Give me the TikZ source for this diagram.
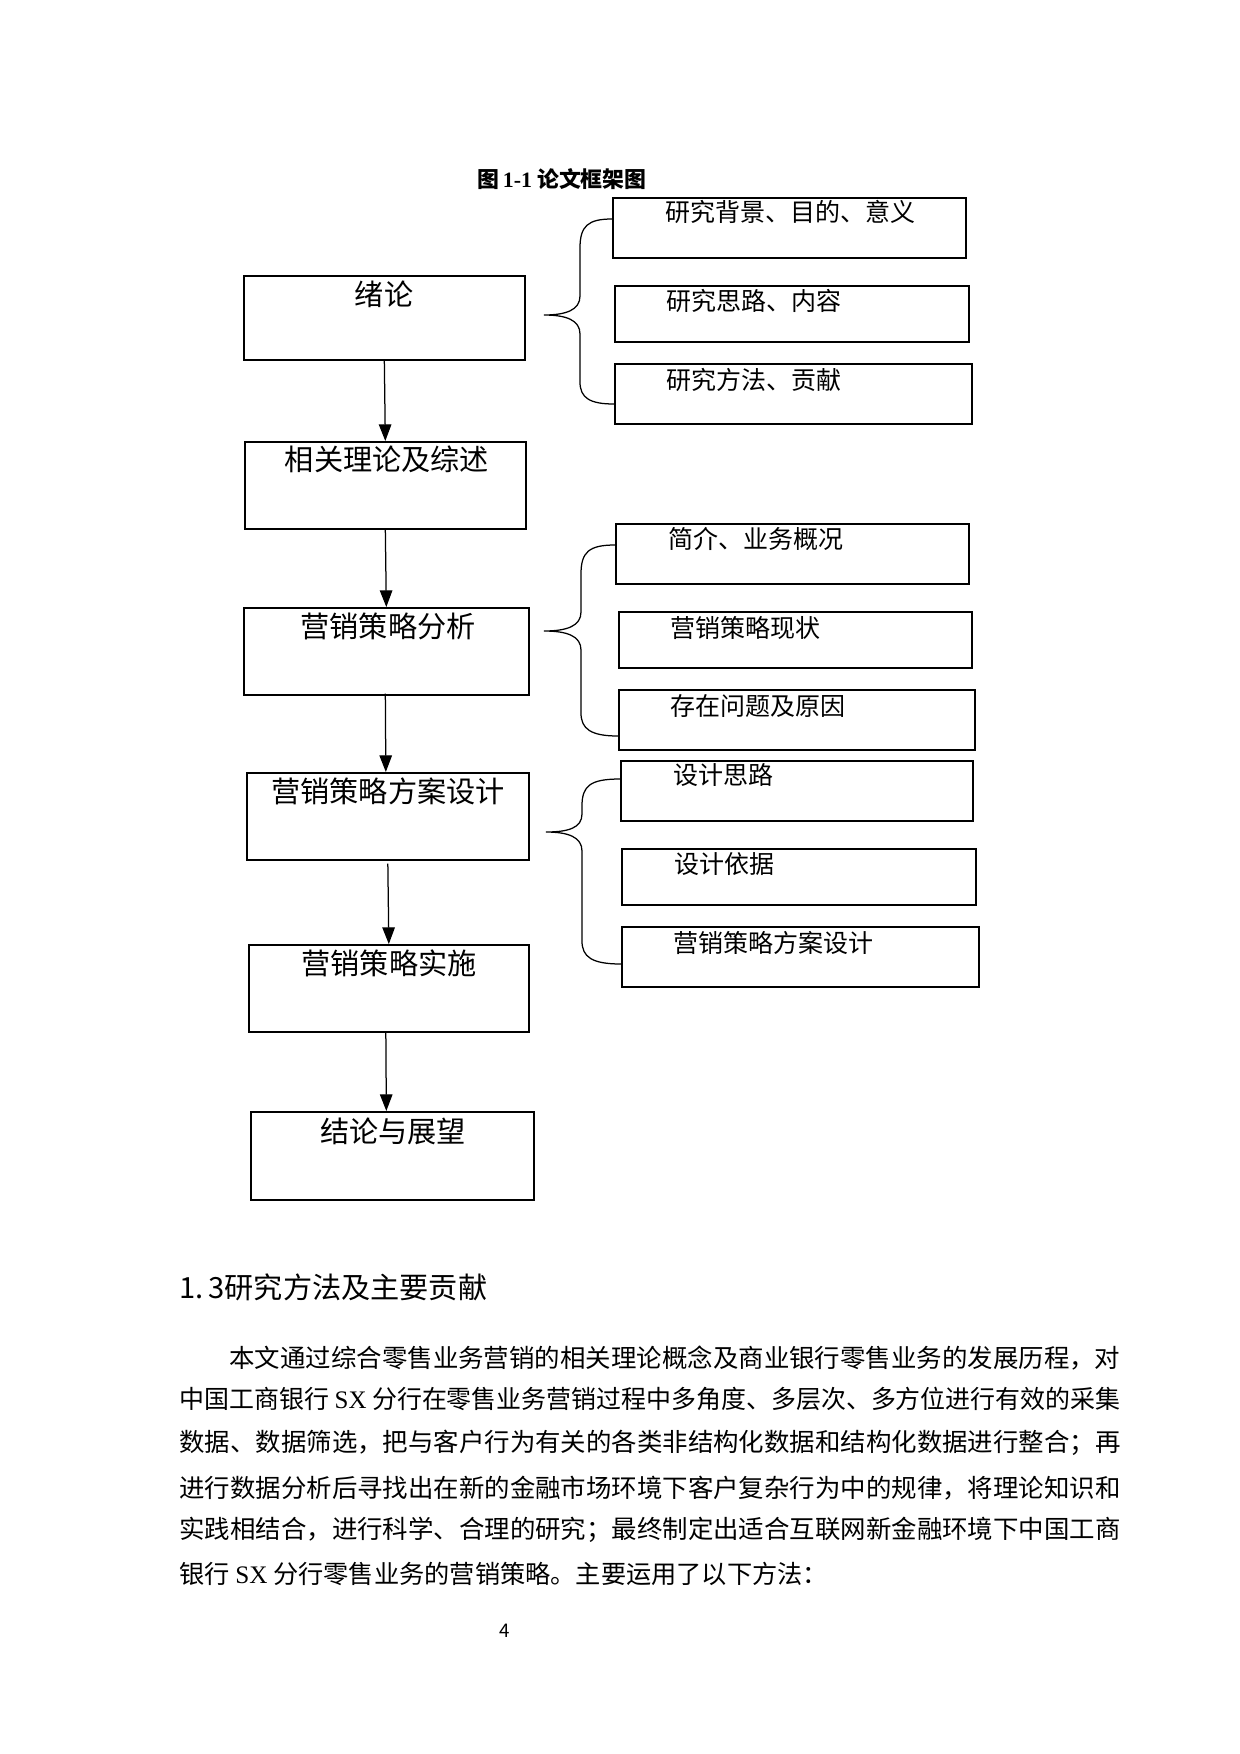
\documentclass[tikz,border=0pt]{standalone}
\usepackage{graphicx}
\usepackage{fontspec}
\setmainfont{Liberation Serif}
\newfontfamily\cjk{Noto Sans CJK SC}
\usetikzlibrary{arrows.meta,calc}
\tikzset{
  mainbox/.style={draw,line width=0.8pt,minimum width=281*0.48pt,minimum height=86*0.48pt,inner sep=0pt,anchor=north west},
  subbox/.style={draw,line width=0.8pt,minimum width=353*0.48pt,minimum height=59*0.48pt,inner sep=0pt,anchor=north west},
  maintext/.style={font=\cjk\fontsize{14}{16}\selectfont,inner sep=0pt,anchor=center},
  subtext/.style={font=\cjk\fontsize{12}{14}\selectfont,inner sep=0pt,anchor=west},
  bodytext/.style={font=\cjk\fontsize{12.1}{14}\selectfont,inner sep=0pt,anchor=west},
  flow/.style={line width=0.6pt,-{Triangle[length=8pt,width=6pt]}},
  bracel/.style={line width=0.6pt}
}
\newcommand{\spreadline}[2]{\resizebox{#1}{\height}{#2}}
\begin{document}
\begin{tikzpicture}[x=0.48pt,y=-0.48pt]
\useasboundingbox (0,0) rectangle (1240,1754);
% title
\node[font=\cjk\bfseries\fontsize{10.5}{12}\selectfont,inner sep=0pt] (title) at (562,179) {图\,{\rmfamily\bfseries 1-1} 论文框架图};
% main column
\node[mainbox,minimum width=281*0.48pt,minimum height=84*0.48pt] (m1) at (243,275) {};
\node[maintext] (t1) at (384,294) {绪论};
\node[mainbox,minimum width=281*0.48pt,minimum height=87*0.48pt] (m2) at (244,441) {};
\node[maintext] (t2) at (387,459) {相关理论及综述};
\node[mainbox,minimum width=285*0.48pt,minimum height=87*0.48pt] (m3) at (243,607) {};
\node[maintext] (t3) at (388,626) {营销策略分析};
\node[mainbox,minimum width=282*0.48pt,minimum height=87*0.48pt] (m4) at (246,772) {};
\node[maintext] (t4) at (388,791) {营销策略方案设计};
\node[mainbox,minimum width=280*0.48pt,minimum height=87*0.48pt] (m5) at (248,944) {};
\node[maintext] (t5) at (389,963) {营销策略实施};
\node[mainbox,minimum width=283*0.48pt,minimum height=88*0.48pt] (m6) at (250,1111) {};
\node[maintext] (t6) at (393,1131) {结论与展望};
% arrows
\draw[flow] (m1.south) -- (m2.north);
\draw[flow] (m2.south) -- (m3.north);
\draw[flow] ($(m3.south)+(-1,-2)$) -- ($(m4.north)+(-2,0)$);
\draw[flow] ($(m4.south)+(0,3)$) -- ($(m5.north)+(0,0)$);
\draw[flow] ($(m5.south)+(-3,0)$) -- ($(m6.north)+(-6,0)$);
% group 1
\node[subbox,minimum width=353*0.48pt,minimum height=60*0.48pt] (a1) at (612,197) {};
\node[subtext] (ta1) at (665,212) {研究背景、目的、意义};
\node[subbox,minimum width=354*0.48pt,minimum height=56*0.48pt] (a2) at (614,285) {};
\node[subtext] (ta2) at (666,301) {研究思路、内容};
\node[subbox,minimum width=357*0.48pt,minimum height=60*0.48pt] (a3) at (614,363) {};
\node[subtext] (ta3) at (666,380) {研究方法、贡献};
% group 2
\node[subbox,minimum width=353*0.48pt,minimum height=60*0.48pt] (b1) at (615,523) {};
\node[subtext] (tb1) at (668,539) {简介、业务概况};
\node[subbox,minimum width=353*0.48pt,minimum height=56*0.48pt] (b2) at (618,611) {};
\node[subtext] (tb2) at (670,628) {营销策略现状};
\node[subbox,minimum width=356*0.48pt,minimum height=60*0.48pt] (b3) at (618,689) {};
\node[subtext] (tb3) at (670,706) {存在问题及原因};
% group 3
\node[subbox,minimum width=352*0.48pt,minimum height=60*0.48pt] (c1) at (620,760) {};
\node[subtext] (tc1) at (673,775) {设计思路};
\node[subbox,minimum width=354*0.48pt,minimum height=56*0.48pt] (c2) at (621,848) {};
\node[subtext] (tc2) at (674,864) {设计依据};
\node[subbox,minimum width=357*0.48pt,minimum height=60*0.48pt] (c3) at (621,926) {};
\node[subtext] (tc3) at (673,943) {营销策略方案设计};
% braces
\coordinate (ba) at (544,315);
\coordinate (bb) at (544,631);
\coordinate (bc) at (546,832);
\draw[bracel] (a1.west |- 0,219) .. controls (588,219) and (580,226) .. (580,248)
  -- (580,296) .. controls (580,310) and (566,315) .. (ba)
  .. controls (566,315) and (580,320) .. (580,334)
  -- (580,382) .. controls (580,398) and (590,404) .. (a3.west |- 0,404);
\draw[bracel] (b1.west |- 0,545) .. controls (589,545) and (581,552) .. (581,574)
  -- (581,612) .. controls (581,626) and (567,631) .. (bb)
  .. controls (567,631) and (581,636) .. (581,650)
  -- (581,713) .. controls (581,729) and (591,736) .. (b3.west |- 0,736);
\draw[bracel] (c1.west |- 0,779) .. controls (590,779) and (582,786) .. (582,806)
  -- (582,814) .. controls (582,828) and (568,832) .. (bc)
  .. controls (568,832) and (582,837) .. (582,851)
  -- (582,941) .. controls (582,957) and (592,964) .. (c3.west |- 0,964);
% body text
\node[font=\cjk\fontsize{14}{16}\selectfont,inner sep=0pt,anchor=west] (h) at (179,1287) {1.\,3研究方法及主要贡献};
\node[bodytext] (l1) at (229,1358) {\spreadline{427.7pt}{本文通过综合零售业务营销的相关理论概念及商业银行零售业务的发展历程，对}};
\node[bodytext] (l2) at (179,1399) {\spreadline{451.7pt}{中国工商银行 {\rmfamily SX} 分行在零售业务营销过程中多角度、多层次、多方位进行有效的采集}};
\node[bodytext] (l3) at (179,1443) {\spreadline{451.7pt}{数据、数据筛选，把与客户行为有关的各类非结构化数据和结构化数据进行整合；再}};
\node[bodytext] (l4) at (179,1488) {\spreadline{451.7pt}{进行数据分析后寻找出在新的金融市场环境下客户复杂行为中的规律，将理论知识和}};
\node[bodytext] (l5) at (179,1530) {\spreadline{451.7pt}{实践相结合，进行科学、合理的研究；最终制定出适合互联网新金融环境下中国工商}};
\node[bodytext] (l6) at (179,1574) {银行 {\rmfamily SX} 分行零售业务的营销策略。主要运用了以下方法：};
\node[font=\cjk\fontsize{9}{10}\selectfont,inner sep=0pt] (pg) at (505,1631) {4};
\end{tikzpicture}
\end{document}
